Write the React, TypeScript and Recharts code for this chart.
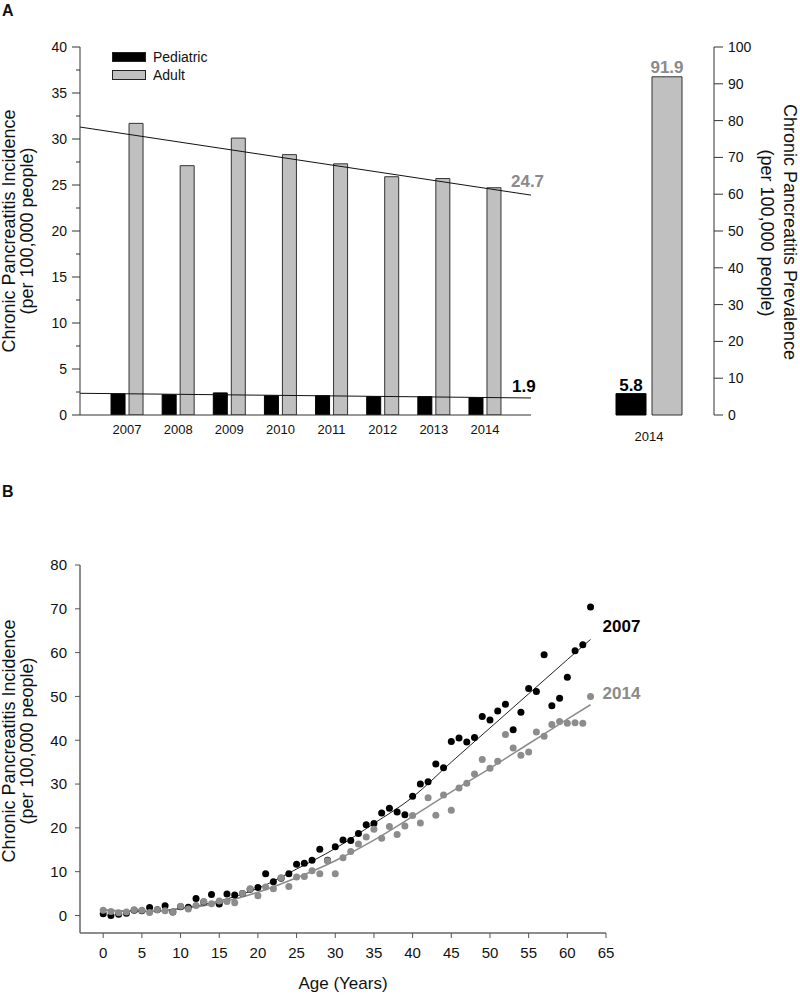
import { ComposedChart, Bar, Line, Scatter, XAxis, YAxis, Legend, LabelList } from 'recharts';

const FONT = '"Liberation Sans", Arial, Helvetica, sans-serif';

// ---- panel A: incidence by year ----
const years = [2007, 2008, 2009, 2010, 2011, 2012, 2013, 2014];
const pediatricIncidence = [2.3, 2.2, 2.4, 2.1, 2.1, 2.0, 2.0, 1.9];
const adultIncidence = [31.7, 27.1, 30.1, 28.3, 27.3, 25.9, 25.7, 24.7];
const groupNames = ['Pediatric', 'Adult'];

// the straight trend lines, read at the two ends of the axis
const trendYears = [2006.08, 2014.9];
const adultTrend = [31.3, 23.9];
const pediatricTrend = [2.36, 1.85];

// prevalence (right axis)
const prevalenceYear = '2014';
const pediatricPrevalence = 5.8;
const adultPrevalence = 91.9;

const incidenceTicks = [0, 2.5, 5, 7.5, 10, 12.5, 15, 17.5, 20, 22.5, 25, 27.5, 30, 32.5, 35, 37.5, 40];
const prevalenceTicks = [0, 5, 10, 15, 20, 25, 30, 35, 40, 45, 50, 55, 60, 65, 70, 75, 80, 85, 90, 95, 100];

// ---- panel B: incidence by age ----
const ages = [
  0, 1, 2, 3, 4, 5, 6, 7, 8, 9, 10, 11, 12, 13, 14, 15, 16, 17, 18, 19, 20, 21, 22, 23, 24, 25, 26, 27, 28, 29, 30, 31,
  32, 33, 34, 35, 36, 37, 38, 39, 40, 41, 42, 43, 44, 45, 46, 47, 48, 49, 50, 51, 52, 53, 54, 55, 56, 57, 58, 59, 60, 61, 62, 63,
];
const rate2007 = [
  0.4, 0.0, 0.3, 0.5, 1.2, 1.1, 1.8, 1.3, 2.2, 0.8, 2.0, 1.9, 3.9, 3.1, 4.8, 2.6, 4.9, 4.7, 5.0, 6.0, 6.4, 9.5, 7.7, 8.5,
  9.5, 11.7, 11.9, 12.6, 15.1, 12.6, 15.7, 17.2, 17.1, 18.7, 20.7, 21.0, 23.4, 24.5, 23.6, 23.0, 27.2, 30.0, 30.5, 34.6,
  33.7, 39.7, 40.5, 39.6, 40.6, 45.4, 44.6, 46.7, 48.2, 42.4, 46.4, 51.8, 51.1, 59.5, 47.9, 49.6, 54.4, 60.4, 61.8, 70.4,
];
const rate2014 = [
  1.2, 0.9, 0.6, 0.8, 1.3, 1.2, 0.7, 1.3, 1.1, 0.8, 2.1, 1.5, 2.3, 3.2, 2.7, 3.3, 3.2, 2.9, 5.0, 6.1, 4.5, 6.5, 6.1, 8.6,
  6.6, 8.8, 8.9, 10.2, 9.5, 12.5, 9.5, 13.2, 14.6, 16.3, 17.9, 19.7, 17.6, 20.3, 18.5, 20.4, 22.8, 21.1, 26.9, 22.9,
  27.5, 24.0, 29.1, 30.2, 32.3, 35.6, 33.6, 35.2, 41.3, 38.2, 36.6, 37.3, 41.9, 40.9, 43.6, 44.3, 43.9, 44.0, 43.9, 50.0,
];

// fitted curves
const fitAges = [0, 5, 10, 15, 20, 25, 30, 35, 40, 45, 50, 55, 60, 63];
const fit2007 = [1.2, 0.9, 1.6, 3.3, 6.2, 10.6, 15.3, 21.0, 27.0, 35.0, 42.8, 50.6, 58.4, 63.0];
const fit2014 = [1.3, 0.9, 1.5, 2.9, 5.3, 8.6, 12.5, 17.2, 22.6, 28.2, 33.6, 39.2, 44.8, 48.1];

const ageTicks = [0, 5, 10, 15, 20, 25, 30, 35, 40, 45, 50, 55, 60, 65];
const ageRateTicks = [0, 5, 10, 15, 20, 25, 30, 35, 40, 45, 50, 55, 60, 65, 70, 75, 80];

const GRAY_TEXT = '#8a8a8a';

const incidenceData = years.map((year, i) => ({ year, pediatric: pediatricIncidence[i], adult: adultIncidence[i] }));
const adultTrendData = trendYears.map((year, i) => ({ year, v: adultTrend[i] }));
const pediatricTrendData = trendYears.map((year, i) => ({ year, v: pediatricTrend[i] }));
const prevalenceData = [{ name: prevalenceYear, pediatric: pediatricPrevalence, adult: adultPrevalence }];

const points2007 = ages.map((age, i) => ({ age, v: rate2007[i] }));
const points2014 = ages.map((age, i) => ({ age, v: rate2014[i] }));
const fit2007Data = fitAges.map((age, i) => ({ age, v: fit2007[i] }));
const fit2014Data = fitAges.map((age, i) => ({ age, v: fit2014[i] }));

// y tick with major/minor tick marks drawn by hand
function yTick(side: 'left' | 'right', step: number, size: number, margin: number, major: number, minor: number, fontSize: number, color: string) {
  return (p: any) => {
    const v = p.payload.value;
    const isMajor = Math.abs(v / step - Math.round(v / step)) < 1e-6;
    const axisX = side === 'left' ? p.x + size + margin : p.x - size - margin;
    const len = isMajor ? major : minor;
    return (
      <g>
        <line x1={axisX} x2={side === 'left' ? axisX - len : axisX + len} y1={p.y} y2={p.y} stroke={color} />
        {isMajor && (
          <text x={p.x} y={p.y} dy="0.36em" textAnchor={side === 'left' ? 'end' : 'start'} fontSize={fontSize} fontFamily={FONT} fill="#111">
            {v}
          </text>
        )}
      </g>
    );
  };
}

// legend: only the two bar groups, in the figure's order
const renderLegend = (props: any) => {
  const items = groupNames
    .map((name) => (props.payload || []).find((e: any) => e.value === name))
    .filter(Boolean);
  return (
    <div style={{ fontFamily: FONT, fontSize: 14, color: '#111' }}>
      {items.map((e: any) => (
        <div key={e.value} style={{ display: 'flex', alignItems: 'center', height: 18 }}>
          <span style={{ display: 'inline-block', width: 32, height: 8, background: e.color, border: '1px solid #222', marginRight: 7 }} />
          {e.value}
        </div>
      ))}
    </div>
  );
};

const lastIndex = years.length - 1;

function PanelA() {
  return (
    <>
      <div style={{ position: 'absolute', left: 0, top: 0 }}>
        <ComposedChart width={600} height={450} data={incidenceData} barGap={4} margin={{ top: 47, right: 69, bottom: 5, left: 0 }}>
          <XAxis
            type="number"
            dataKey="year"
            domain={[trendYears[0], trendYears[1]]}
            allowDataOverflow
            ticks={years}
            tickLine={false}
            axisLine={{ stroke: '#333' }}
            tickSize={6}
            tickMargin={4}
            height={30}
            tick={{ fontSize: 13, fill: '#111', fontFamily: FONT }}
          />
          <YAxis
            type="number"
            domain={[0, 40]}
            ticks={incidenceTicks}
            allowDataOverflow
            width={80}
            tickLine={false}
            axisLine={{ stroke: '#333' }}
            tickSize={8}
            tickMargin={5}
            tick={yTick('left', 5, 8, 5, 8, 4, 14, '#333')}
          />
          <Legend layout="vertical" align="center" verticalAlign="middle" wrapperStyle={{ left: 112, top: 48, width: 'auto' }} content={renderLegend} />
          <Bar dataKey="pediatric" name={groupNames[0]} fill="#000" stroke="#000" barSize={14} isAnimationActive={false}>
            <LabelList
              dataKey="pediatric"
              content={(p: any) =>
                p.index === lastIndex ? (
                  <text x={Number(p.x) + Number(p.width) + 29} y={Number(p.y) - 6} fontSize={17} fontWeight="bold" fontFamily={FONT} fill="#000">
                    {Number(p.value).toFixed(1)}
                  </text>
                ) : null
              }
            />
          </Bar>
          <Bar dataKey="adult" name={groupNames[1]} fill="#c0c0c0" stroke="#333" barSize={14} isAnimationActive={false}>
            <LabelList
              dataKey="adult"
              content={(p: any) =>
                p.index === lastIndex ? (
                  <text x={Number(p.x) + Number(p.width) + 10} y={Number(p.y) - 1} fontSize={17} fontWeight="bold" fontFamily={FONT} fill={GRAY_TEXT}>
                    {Number(p.value).toFixed(1)}
                  </text>
                ) : null
              }
            />
          </Bar>
          <Line data={adultTrendData} dataKey="v" stroke="#111" strokeWidth={1} dot={false} legendType="none" isAnimationActive={false} />
          <Line data={pediatricTrendData} dataKey="v" stroke="#111" strokeWidth={1} dot={false} legendType="none" isAnimationActive={false} />
        </ComposedChart>
      </div>
      <div style={{ position: 'absolute', left: 0, top: 0 }}>
        <ComposedChart width={800} height={450} data={prevalenceData} barGap={6} margin={{ top: 47, right: 0, bottom: 5, left: 584 }}>
          <XAxis dataKey="name" axisLine={false} tickLine={false} tickSize={6} tickMargin={11} height={30} tick={{ fontSize: 13, fill: '#111', fontFamily: FONT }} />
          <YAxis
            orientation="right"
            type="number"
            domain={[0, 100]}
            ticks={prevalenceTicks}
            width={86}
            tickLine={false}
            axisLine={{ stroke: '#333' }}
            tickSize={9}
            tickMargin={5}
            tick={yTick('right', 10, 9, 5, 9, 4, 14, '#333')}
          />
          <Bar dataKey="pediatric" fill="#000" stroke="#000" barSize={30} isAnimationActive={false}>
            <LabelList dataKey="pediatric" position="top" offset={3} fontSize={17} fontWeight="bold" fontFamily={FONT} fill="#000" formatter={(v: any) => Number(v).toFixed(1)} />
          </Bar>
          <Bar dataKey="adult" fill="#c0c0c0" stroke="#333" barSize={30} isAnimationActive={false}>
            <LabelList dataKey="adult" position="top" offset={4} fontSize={17} fontWeight="bold" fontFamily={FONT} fill={GRAY_TEXT} formatter={(v: any) => Number(v).toFixed(1)} />
          </Bar>
        </ComposedChart>
      </div>
    </>
  );
}

const dot = (color: string) => (p: any) => <circle cx={p.cx} cy={p.cy} r={3.5} fill={color} />;

const endLabel = (text: string, color: string, dy: number, last: number) => (p: any) =>
  p.index === last ? (
    <text x={Number(p.x) + 12} y={Number(p.y) + dy} fontSize={17} fontWeight="bold" fontFamily={FONT} fill={color}>
      {text}
    </text>
  ) : null;

function PanelB() {
  return (
    <div style={{ position: 'absolute', left: 0, top: 470 }}>
      <ComposedChart width={800} height={525} margin={{ top: 95, right: 194, bottom: 32, left: 0 }}>
        <XAxis
          type="number"
          dataKey="age"
          domain={[-3, 65]}
          allowDataOverflow
          ticks={ageTicks}
          tickSize={5}
          tickMargin={9}
          height={30}
          axisLine={{ stroke: '#666', strokeWidth: 1.5 }}
          tickLine={{ stroke: '#555' }}
          tick={{ fontSize: 15, fill: '#111', fontFamily: FONT }}
        />
        <YAxis
          type="number"
          dataKey="v"
          domain={[-4, 80]}
          allowDataOverflow
          ticks={ageRateTicks}
          width={80}
          tickLine={false}
          axisLine={{ stroke: '#666', strokeWidth: 1.5 }}
          tickSize={5}
          tickMargin={8}
          tick={yTick('left', 10, 5, 8, 5, 3, 15, '#555')}
        />
        <Scatter data={points2007} dataKey="v" shape={dot('#000')} isAnimationActive={false} />
        <Scatter data={points2014} dataKey="v" shape={dot('#8c8c8c')} isAnimationActive={false} />
        <Line data={fit2007Data} dataKey="v" type="monotone" stroke="#222" strokeWidth={1} dot={false} isAnimationActive={false}>
          <LabelList dataKey="v" content={endLabel('2007', '#000', -7, fitAges.length - 1)} />
        </Line>
        <Line data={fit2014Data} dataKey="v" type="monotone" stroke="#8c8c8c" strokeWidth={1.5} dot={false} isAnimationActive={false}>
          <LabelList dataKey="v" content={endLabel('2014', GRAY_TEXT, -6, fitAges.length - 1)} />
        </Line>
      </ComposedChart>
    </div>
  );
}

function Titles() {
  const t = { fontFamily: FONT, fill: '#111' };
  return (
    <svg width={800} height={995} style={{ position: 'absolute', left: 0, top: 0, pointerEvents: 'none' }}>
      <text x={2} y={16} fontSize={16} fontWeight="bold" {...t}>A</text>
      <text x={2} y={497} fontSize={16} fontWeight="bold" {...t}>B</text>

      <text x={15} y={231} fontSize={18} textAnchor="middle" transform="rotate(-90 15 231)" {...t}>Chronic Pancreatitis Incidence</text>
      <text x={33} y={231} fontSize={18} textAnchor="middle" transform="rotate(-90 33 231)" {...t}>(per 100,000 people)</text>

      <text x={784} y={232} fontSize={18} textAnchor="middle" transform="rotate(90 784 232)" {...t}>Chronic Pancreatitis Prevalence</text>
      <text x={761} y={233} fontSize={18} textAnchor="middle" transform="rotate(90 761 233)" {...t}>(per 100,000 people)</text>

      <text x={15} y={741} fontSize={18} textAnchor="middle" transform="rotate(-90 15 741)" {...t}>Chronic Pancreatitis Incidence</text>
      <text x={33} y={741} fontSize={18} textAnchor="middle" transform="rotate(-90 33 741)" {...t}>(per 100,000 people)</text>

      <text x={343} y={989} fontSize={17} textAnchor="middle" {...t}>Age (Years)</text>
    </svg>
  );
}

export default function App() {
  return (
    <div style={{ position: 'absolute', left: 0, top: 0, width: 800, height: 995, background: '#fff' }}>
      <PanelA />
      <PanelB />
      <Titles />
    </div>
  );
}
